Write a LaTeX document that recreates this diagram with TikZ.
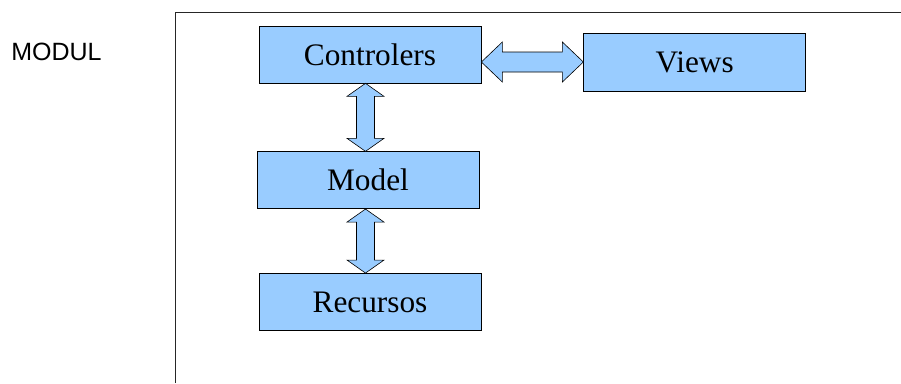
\documentclass[tikz,border=0pt]{standalone}
\usepackage{fontspec}
\setmainfont{Liberation Serif}
\newfontfamily\labelfont{Liberation Sans}
\usepackage{tikz}
\usetikzlibrary{positioning, calc}
\definecolor{boxblue}{HTML}{99CCFF}

\begin{document}
\begin{tikzpicture}[x=1pt, y=-1pt, line width=0.7pt,
  block/.style={rectangle,draw,fill=boxblue,minimum width=222pt,minimum height=57pt,
    inner sep=0pt,font=\fontsize{31.3}{34}\selectfont},
  vbiarrow/.style={draw,fill=boxblue,line width=0.6pt,to path={let \p1=(\tikztostart), \p2=(\tikztotarget) in
    (\p1) -- (\x1+18.5pt,\y1-13pt) -- (\x1+9pt,\y1-13pt) -- (\x1+9pt,\y2+13pt) -- (\x1+18.5pt,\y2+13pt)
    -- (\x1,\y2) -- (\x1-18.5pt,\y2+13pt) -- (\x1-9pt,\y2+13pt) -- (\x1-9pt,\y1-13pt) -- (\x1-18.5pt,\y1-13pt) -- cycle}},
  hbiarrow/.style={draw,fill=boxblue,line width=0.6pt,to path={let \p1=(\tikztostart), \p2=(\tikztotarget) in
    (\p1) -- (\x1+21pt,\y1+20pt) -- (\x1+21pt,\y1+10pt) -- (\x2-21pt,\y1+10pt) -- (\x2-21pt,\y1+20pt)
    -- (\x2,\y1) -- (\x2-21pt,\y1-20pt) -- (\x2-21pt,\y1-10pt) -- (\x1+21pt,\y1-10pt) -- (\x1+21pt,\y1-20pt) -- cycle}}]

\useasboundingbox (0,0) rectangle (901,383);

% frame
\draw[line width=0.8pt, black!85] (175,383) -- (175,12) -- (901,12);
\node[anchor=west, inner sep=0pt, font=\labelfont\fontsize{25}{29}\selectfont] (modul) at (11,52) {MODUL};

\node[block] (Ctrl) at (370,54.5) {Controlers};
\node[block, minimum height=58pt] (Views) [right=102pt of Ctrl, yshift=-7.5pt] {Views};
\node[block] (Model) [below=68pt of Ctrl, xshift=-2pt] {Model};
\node[block] (Recursos) [below=64pt of Model, xshift=2pt] {Recursos};

\draw[hbiarrow] (Ctrl.east |- Views.west) to (Views.west);
\draw[vbiarrow] ([xshift=-4.5pt]Ctrl.south) to (Model.north);
\draw[vbiarrow] ([xshift=-2.5pt]Model.south) to (Recursos.north);

\end{tikzpicture}
\end{document}
